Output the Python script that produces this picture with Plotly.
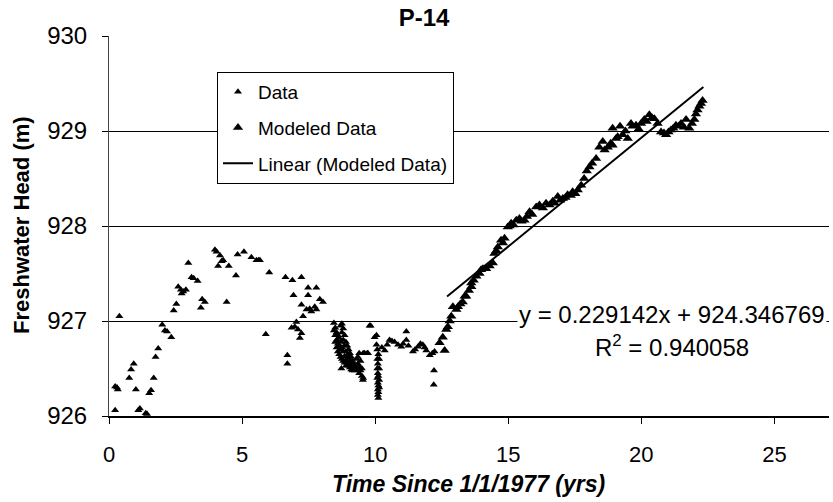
import plotly.graph_objects as go

# ---- data ----
data_x = [0.23, 0.23, 0.30, 0.33, 0.39, 0.76, 0.83, 0.93, 1.01, 1.10, 1.16, 1.38, 1.43, 1.51, 1.58,
          1.68, 1.75, 1.85, 2.00, 2.10, 2.18, 2.34, 2.43, 2.53, 2.60, 2.70, 2.73, 2.79, 2.89, 2.98,
          3.10, 3.18, 3.33, 3.45, 3.50, 3.60, 3.98, 4.04, 4.10, 4.17, 4.23, 4.29, 4.42, 4.50, 4.77,
          4.83, 5.07, 5.35, 5.54, 5.62, 5.67, 5.89, 6.02, 6.63, 6.70, 6.70, 6.86, 6.89, 6.93, 6.98,
          7.04, 7.10, 7.17, 7.23, 7.23, 7.23, 7.29, 7.42, 7.48, 7.48, 7.54, 7.60, 7.73, 7.79, 7.79,
          7.92, 8.04,
          8.45, 8.45, 8.50, 8.50, 8.50, 8.55, 8.55, 8.55, 8.60, 8.60, 8.60, 8.65, 8.65, 8.65,
          8.70, 8.70, 8.70, 8.70, 8.73, 8.75, 8.75, 8.75, 8.75, 8.80, 8.80, 8.80, 8.80,
          8.85, 8.85, 8.85, 8.85, 8.90, 8.90, 8.90, 8.90, 8.95, 8.95, 8.95, 9.00, 9.00, 9.00,
          9.05, 9.05, 9.05, 9.10, 9.10, 9.10, 9.15, 9.15, 9.15, 9.20, 9.20, 9.25, 9.25,
          9.30, 9.30, 9.35, 9.35, 9.40, 9.40, 9.40, 9.45, 9.45, 9.50, 9.50, 9.54, 9.55, 9.55,
          9.60, 9.70, 9.73, 9.79, 9.83, 9.98,
          10.05, 10.05, 10.08, 10.08, 10.08, 10.08, 10.10, 10.10, 10.10, 10.10, 10.10,
          10.12, 10.12, 10.12, 10.12, 10.12, 10.15, 10.15, 10.15, 10.15,
          10.25, 10.36, 10.45, 10.54, 10.63, 10.73, 10.86, 10.98, 11.05, 11.17, 11.17, 11.25,
          11.42, 11.50, 11.61, 11.70, 11.79, 11.86, 11.92, 12.05, 12.15, 12.23, 12.21, 12.20]
data_y = [926.06, 926.31, 926.30, 926.28, 927.05, 926.40, 926.49, 926.55, 926.28, 926.06, 926.08,
          926.03, 926.02, 926.24, 926.27, 926.40, 926.62, 926.71, 926.96, 926.90, 926.89, 926.83,
          927.11, 927.18, 927.36, 927.33, 927.29, 927.31, 927.33, 927.61, 927.46, 927.45, 927.42,
          927.14, 927.23, 927.20, 927.75, 927.73, 927.58, 927.69, 927.63, 927.64, 927.20, 927.58,
          927.48, 927.70, 927.73, 927.67, 927.64, 927.64, 927.64, 926.86, 927.51, 927.46, 926.64,
          926.55, 926.93, 927.43, 927.27, 926.94, 926.99, 926.91, 926.82, 927.46, 927.17, 926.87,
          927.05, 927.12, 927.35, 927.27, 927.13, 927.10, 927.15, 927.35, 927.12, 927.23, 927.20,
          926.98, 926.90, 926.93, 926.85, 926.78, 926.88, 926.80, 926.72, 926.85, 926.76, 926.68,
          926.82, 926.74, 926.65, 926.95, 926.78, 926.70, 926.62, 926.50, 926.97, 926.88, 926.72,
          926.60, 926.92, 926.80, 926.68, 926.58, 926.85, 926.74, 926.63, 926.56, 926.78, 926.68,
          926.59, 926.53, 926.74, 926.64, 926.56, 926.70, 926.61, 926.53, 926.66, 926.58, 926.51,
          926.62, 926.55, 926.49, 926.58, 926.52, 926.48, 926.55, 926.50, 926.52, 926.48,
          926.60, 926.50, 926.62, 926.55, 926.66, 926.52, 926.45, 926.58, 926.48, 926.50, 926.42,
          926.38, 926.66, 926.40, 926.66, 926.66, 926.66, 926.95, 926.95, 926.83,
          926.85, 926.75, 926.70, 926.60, 926.50, 926.40, 926.55, 926.45, 926.35, 926.28, 926.22,
          926.65, 926.42, 926.32, 926.25, 926.19, 926.60, 926.50, 926.38, 926.30,
          926.72, 926.69, 926.75, 926.80, 926.79, 926.78, 926.75, 926.73, 926.76, 926.89, 926.80,
          926.74, 926.68, 926.70, 926.73, 926.76, 926.75, 926.72, 926.69, 926.64, 926.66, 926.68,
          926.48, 926.33]

model_x = [12.42, 12.54, 12.61, 12.67, 12.73, 12.80, 12.86, 12.92, 13.05, 13.11, 13.20, 13.29,
           13.36, 13.42, 13.52, 13.61, 13.61, 13.70, 13.80, 13.92, 13.98, 14.05, 14.17, 14.30,
           14.42, 14.48, 14.55, 14.61, 14.73, 14.80, 14.86, 14.98, 15.05, 15.11, 15.20, 15.30,
           15.42, 15.50, 15.61, 15.70, 15.80, 15.90, 16.05, 16.17, 16.30, 16.42, 16.55, 16.67,
           16.75, 16.86, 16.95, 17.05, 17.15, 17.23, 17.35, 17.42, 17.52, 17.61, 17.74, 17.85,
           17.95, 18.05, 18.15, 18.30, 18.42, 18.55, 18.62, 18.74, 18.85, 18.92, 18.92, 19.05,
           19.11, 19.20, 19.30, 19.40, 19.49, 19.61, 19.67, 19.80, 19.90, 19.99, 20.11, 20.20,
           20.30, 20.40, 20.49, 20.61, 20.74, 20.85, 20.93, 21.02, 21.11, 21.20, 21.30, 21.40,
           21.49, 21.60, 21.68, 21.80, 21.90, 21.99, 22.05, 22.11, 22.18, 22.24, 22.30]
model_y = [926.77, 926.83, 926.69, 926.91, 926.94, 927.00, 927.05, 927.15, 927.12, 927.15, 927.18,
           927.20, 927.26, 927.26, 927.32, 927.36, 927.40, 927.43, 927.47, 927.50, 927.54, 927.55,
           927.55, 927.58, 927.61, 927.71, 927.74, 927.78, 927.85, 927.82, 927.87, 927.99, 928.00,
           928.03, 928.01, 928.06, 928.08, 928.05, 928.06, 928.10, 928.15, 928.12, 928.20, 928.22,
           928.19, 928.24, 928.22, 928.26, 928.24, 928.31, 928.27, 928.29, 928.30, 928.33, 928.32,
           928.36, 928.34, 928.38, 928.43, 928.50, 928.58, 928.62, 928.66, 928.71, 928.83, 928.89,
           928.80, 928.83, 928.87, 929.03, 928.85, 928.92, 928.94, 929.05, 928.96, 929.00, 928.92,
           929.08, 929.05, 929.06, 929.02, 929.08, 929.12, 929.10, 929.17, 929.14, 929.13, 929.08,
           928.99, 928.98, 928.96, 928.99, 929.01, 929.03, 929.06, 929.05, 929.08, 929.04, 929.12,
           929.03, 929.08, 929.12, 929.18, 929.22, 929.26, 929.29, 929.32]

trend_slope = 0.229142
trend_intercept = 924.346769
trend_x = [12.7, 22.33]
trend_y = [trend_slope * v + trend_intercept for v in trend_x]

x_ticks = [0, 5, 10, 15, 20, 25]
y_ticks = [926, 927, 928, 929, 930]

FONT = "Liberation Sans, Arial, sans-serif"

# plot-area pixel geometry (used only to place free text)
W, H = 833, 502
ML, MR, MT, MB = 109, 4, 36, 86
pl, pr, pt, pb = ML, W - MR, MT, H - MB


def px(x):
    return (x - pl) / (pr - pl)


def py(y):
    return (pb - y) / (pb - pt)


fig = go.Figure()
fig.add_trace(go.Scatter(
    x=data_x, y=data_y, mode="markers", name="Data", legendgroup="a",
    marker=dict(symbol="triangle-up", size=7, color="black")))
fig.add_trace(go.Scatter(
    x=model_x, y=model_y, mode="markers", name="Modeled Data", legendgroup="b",
    marker=dict(symbol="triangle-up", size=9, color="black")))
fig.add_trace(go.Scatter(
    x=trend_x, y=trend_y, mode="lines", name="Linear (Modeled Data)", legendgroup="c",
    line=dict(color="black", width=2)))

fig.update_layout(
    width=W, height=H,
    margin=dict(l=ML, r=MR, t=MT, b=MB),
    paper_bgcolor="white", plot_bgcolor="white",
    font=dict(family=FONT, color="black"),
    title=dict(text="<b>P-14</b>", font=dict(size=24, family=FONT, color="black"),
               x=424 / W, xanchor="center", y=1 - 18 / H, yanchor="middle",
               xref="container", yref="container"),
    showlegend=True,
    legend=dict(x=px(217), y=py(72), xanchor="left", yanchor="top",
                bgcolor="white", bordercolor="black", borderwidth=1,
                font=dict(size=19, family=FONT, color="black"),
                tracegroupgap=8, itemwidth=30),
    xaxis=dict(range=[0, 27.05], tickvals=x_ticks, ticktext=[str(v) for v in x_ticks],
               showgrid=False, zeroline=False, showline=True, linecolor="black", linewidth=2,
               ticks="outside", ticklen=6, tickcolor="black", tickwidth=1,
               tickfont=dict(size=22, family=FONT, color="black"), ticklabelstandoff=12),
    yaxis=dict(range=[926, 930], tickvals=y_ticks, ticktext=[str(v) for v in y_ticks],
               showgrid=True, gridcolor="black", gridwidth=1, zeroline=False,
               showline=True, linecolor="#444", linewidth=1,
               ticks="outside", ticklen=6, tickcolor="black", tickwidth=1,
               tickfont=dict(size=24, family=FONT, color="black"), ticklabelstandoff=10),
    annotations=[
        dict(text="<b>Freshwater Head (m)</b>", textangle=-90, x=px(21), y=py(225),
             xref="paper", yref="paper", xanchor="center", yanchor="middle", showarrow=False,
             font=dict(size=22, family=FONT, color="black")),
        dict(text="<b><i>Time Since 1/1/1977 (yrs)</i></b>", x=px(468), y=py(484),
             xref="paper", yref="paper", xanchor="center", yanchor="middle", showarrow=False,
             font=dict(size=23, family=FONT, color="black")),
        dict(text="y = 0.229142x + 924.346769", x=px(672), y=py(314),
             xref="paper", yref="paper", xanchor="center", yanchor="middle", showarrow=False,
             bgcolor="white", font=dict(size=24, family=FONT, color="black")),
        dict(text="R<sup>2</sup> = 0.940058", x=px(672), y=py(346),
             xref="paper", yref="paper", xanchor="center", yanchor="middle", showarrow=False,
             font=dict(size=24, family=FONT, color="black")),
    ],
)

fig.write_html("out.html", post_script="document.body.style.margin='0';",
               config={"displayModeBar": False})
